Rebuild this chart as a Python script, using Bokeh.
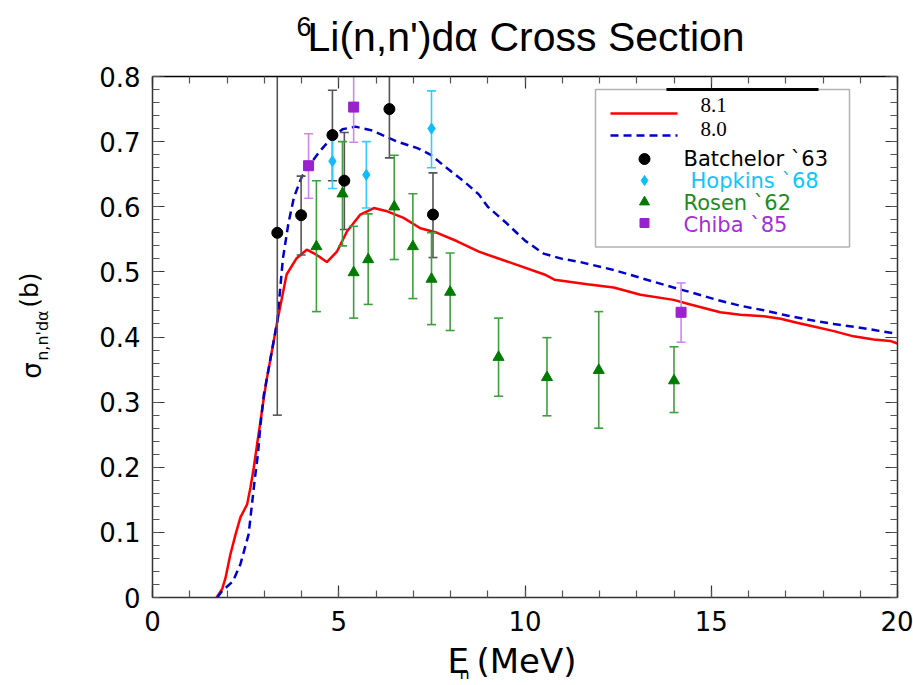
import math
from bokeh.plotting import figure
from bokeh.layouts import column, row
from bokeh.models import (Range1d, LinearAxis, SingleIntervalTicker, CustomJSTickFormatter,
                          Label, BoxAnnotation)
from bokeh.embed import file_html
from bokeh.resources import INLINE

# ---------------- data ----------------
# ENDF/B-VIII.1 evaluation (red solid)
e81 = [1.72, 1.87, 1.96, 2.09, 2.23, 2.36, 2.54, 2.63, 2.72, 2.81, 2.90, 2.99, 3.06, 3.35,
       3.60, 3.87, 4.14, 4.41, 4.68, 4.95, 5.22, 5.58, 5.94, 6.30, 6.74, 7.19, 7.64, 8.18,
       8.76, 9.52, 10.52, 10.79, 11.67, 12.38, 13.10, 13.99, 14.44, 15.24, 15.78, 16.41,
       16.86, 17.30, 17.75, 18.29, 18.82, 19.36, 19.80, 20.00]
s81 = [0.000, 0.013, 0.030, 0.066, 0.097, 0.123, 0.143, 0.169, 0.200, 0.236, 0.271, 0.307,
       0.333, 0.424, 0.496, 0.521, 0.534, 0.526, 0.515, 0.531, 0.562, 0.588, 0.598, 0.593,
       0.583, 0.567, 0.560, 0.547, 0.531, 0.516, 0.496, 0.488, 0.481, 0.476, 0.465, 0.457,
       0.450, 0.438, 0.434, 0.432, 0.428, 0.422, 0.416, 0.409, 0.401, 0.396, 0.394, 0.390]
# ENDF/B-VIII.0 evaluation (blue dashed)
e80 = [1.74, 1.87, 2.16, 2.36, 2.58, 2.67, 2.74, 2.83, 2.90, 2.99, 3.06, 3.35, 3.50, 3.65,
       3.80, 4.00, 4.20, 4.50, 4.80, 5.10, 5.45, 5.90, 6.57, 7.11, 7.46, 7.91, 8.36, 8.76,
       9.00, 9.50, 10.00, 10.50, 11.00, 11.49, 12.38, 13.27, 14.17, 14.44, 15.15, 15.78,
       16.41, 17.03, 17.66, 18.29, 18.91, 19.45, 20.00]
s80 = [0.000, 0.010, 0.025, 0.051, 0.097, 0.143, 0.179, 0.220, 0.266, 0.312, 0.333, 0.424,
       0.520, 0.575, 0.615, 0.645, 0.663, 0.686, 0.705, 0.719, 0.723, 0.717, 0.700, 0.690,
       0.680, 0.659, 0.639, 0.619, 0.600, 0.575, 0.548, 0.528, 0.520, 0.515, 0.503, 0.488,
       0.473, 0.469, 0.457, 0.448, 0.441, 0.433, 0.426, 0.420, 0.415, 0.410, 0.405]

# Batchelor `63
bat_e = [3.35, 3.99, 4.83, 5.15, 6.36, 7.53]
bat_s = [0.560, 0.587, 0.710, 0.640, 0.750, 0.588]
bat_lo = [0.280, 0.526, 0.640, 0.565, 0.675, 0.522]
bat_hi = [0.850, 0.647, 0.779, 0.714, 0.825, 0.652]
# Hopkins `68
hop_e = [4.83, 5.74, 7.49]
hop_s = [0.670, 0.649, 0.720]
hop_lo = [0.628, 0.598, 0.660]
hop_hi = [0.712, 0.700, 0.778]
# Rosen `62
ros_e = [4.40, 5.10, 5.40, 5.79, 6.49, 6.99, 7.49, 7.99, 9.29, 10.59, 11.98, 14.00]
ros_s = [0.539, 0.620, 0.499, 0.519, 0.600, 0.539, 0.489, 0.469, 0.369, 0.338, 0.349, 0.333]
ros_lo = [0.439, 0.540, 0.429, 0.450, 0.519, 0.459, 0.419, 0.410, 0.309, 0.279, 0.260, 0.284]
ros_hi = [0.640, 0.700, 0.570, 0.589, 0.679, 0.620, 0.560, 0.529, 0.429, 0.399, 0.439, 0.385]
# Chiba `85
chi_e = [4.19, 5.40, 14.19]
chi_s = [0.663, 0.753, 0.438]
chi_lo = [0.613, 0.699, 0.392]
chi_hi = [0.712, 0.810, 0.483]

x_ticks = [0, 5, 10, 15, 20]
y_ticks = [0, 0.1, 0.2, 0.3, 0.4, 0.5, 0.6, 0.7, 0.8]

# ---------------- page layout (pixels of the 913x685 page) ----------------
W, H = 913, 685
TITLE_H = 61          # title strip on top
XLAB_H = 45           # x-axis-label strip at the bottom
YLAB_W = 55           # y-axis-label strip on the left
MAIN_H = H - TITLE_H - XLAB_H
MAIN_W = W - YLAB_W
FL, FR, FT, FB = 152, 897, 76, 597      # plot frame, in page pixels
XMIN, XMAX, YMIN, YMAX = 0.0, 20.0, 0.0, 0.8
MID = 0.346           # distance baseline -> middle of the text box, in em


def dx(px):
    return XMIN + (px - FL) / (FR - FL) * (XMAX - XMIN)


def dy(py):
    return YMIN + (FB - py) / (FB - FT) * (YMAX - YMIN)


def strip(width, height, x0, y0):
    """A bare figure whose data coordinates equal page pixels (y downwards)."""
    f = figure(width=width, height=height, output_backend="svg", toolbar_location=None,
               x_range=Range1d(x0, x0 + width), y_range=Range1d(y0 + height, y0),
               x_axis_location=None, y_axis_location=None, min_border=0)
    f.title.text = ""
    f.grid.visible = False
    f.outline_line_color = None
    f.background_fill_color = "white"
    f.border_fill_color = "white"
    return f


def label(px, py, text, size, color="black", font="DejaVu Sans", rotated=False, conv=True):
    """Text whose baseline starts at page pixel (px, py)."""
    if rotated:             # reads bottom-to-top, baseline is the vertical line x = px
        cx, cy = px - MID * size, py
    else:
        cx, cy = px, py - MID * size
    return Label(x=dx(cx) if conv else cx, y=dy(cy) if conv else cy, text=text,
                 text_font=font, text_font_size=f"{size}px", text_color=color,
                 angle=math.pi / 2 if rotated else 0.0, text_align="left",
                 text_baseline="middle", text_font_style="normal")


# ---------------- main plot ----------------
p = figure(width=MAIN_W, height=MAIN_H, output_backend="svg", toolbar_location=None,
           x_range=Range1d(XMIN, XMAX), y_range=Range1d(YMIN, YMAX),
           min_border_left=FL - YLAB_W, min_border_right=W - FR,
           min_border_top=FT - TITLE_H, min_border_bottom=H - XLAB_H - FB,
           x_axis_location=None, y_axis_location=None)
p.title.text = ""
p.grid.visible = False
p.outline_line_color = None
p.background_fill_color = "white"
p.border_fill_color = "white"


def style_axis(ax, labels=True):
    ax.axis_line_color = "#333333"
    ax.axis_line_width = 1.5
    ax.major_tick_in = 12
    ax.major_tick_out = 0
    ax.minor_tick_in = 7
    ax.minor_tick_out = 0
    ax.major_tick_line_color = "#333333"
    ax.minor_tick_line_color = "#555555"
    ax.major_tick_line_width = 1.2
    ax.minor_tick_line_width = 1.2
    ax.major_label_text_font = "DejaVu Sans"
    ax.major_label_text_font_size = "26px"
    ax.major_label_text_color = "black"
    ax.major_label_standoff = 13
    if not labels:
        ax.formatter = CustomJSTickFormatter(code="return ''")
        ax.major_label_standoff = 0
        ax.major_label_text_font_size = "0px"


xb = LinearAxis(ticker=SingleIntervalTicker(interval=5, num_minor_ticks=5))
style_axis(xb)
xb.major_label_overrides = {t: str(t) for t in x_ticks}
p.add_layout(xb, "below")

xa = LinearAxis(ticker=SingleIntervalTicker(interval=5, num_minor_ticks=5))
style_axis(xa, labels=False)
xa.axis_line_color = "black"
p.add_layout(xa, "above")

yl = LinearAxis(ticker=SingleIntervalTicker(interval=0.1, num_minor_ticks=5))
style_axis(yl)
yl.major_label_standoff = 12
yl.major_label_overrides = {0: "0"}
p.add_layout(yl, "left")

yr = LinearAxis(ticker=SingleIntervalTicker(interval=0.1, num_minor_ticks=5))
style_axis(yr, labels=False)
p.add_layout(yr, "right")

# curves
p.line(e81, s81, line_color="#FF0000", line_width=2.5)
p.line(e80, s80, line_color="#0000CC", line_width=2.5, line_dash="8 5")

# measurements with error bars
series = [
    (bat_e, bat_s, bat_lo, bat_hi, "circle", "black", "#555555", 11),
    (hop_e, hop_s, hop_lo, hop_hi, "diamond", "#11BBFF", "#33CCFF", 11),
    (ros_e, ros_s, ros_lo, ros_hi, "triangle", "#007A00", "#3F9F3F", 11),
    (chi_e, chi_s, chi_lo, chi_hi, "square", "#9922CC", "#CC88EE", 10),
]
for ex, sy, lo, hi, mk, col, ecol, sz in series:
    p.segment(x0=ex, y0=lo, x1=ex, y1=hi, line_color=ecol, line_width=1.6)
    p.scatter(ex, lo, marker="dash", size=9, line_color=ecol, line_width=1.6)
    p.scatter(ex, hi, marker="dash", size=9, line_color=ecol, line_width=1.6)
for ex, sy, lo, hi, mk, col, ecol, sz in series:
    p.scatter(ex, sy, marker=mk, size=sz, fill_color=col, line_color=col)

# legend (drawn by hand)
p.add_layout(BoxAnnotation(left=dx(595), right=dx(849), top=dy(89), bottom=dy(246.5),
                           fill_alpha=0, line_color="black", line_width=1.5))
p.segment(x0=[dx(666)], y0=[dy(89)], x1=[dx(818)], y1=[dy(89)], line_color="black", line_width=3)
p.line([dx(610), dx(677)], [dy(113), dy(113)], line_color="#FF0000", line_width=2.5)
p.line([dx(610), dx(677)], [dy(135), dy(135)], line_color="#0000CC", line_width=2.5, line_dash="8 5")
leg_marks = [("circle", "black", 158.5, 11), ("diamond", "#11BBFF", 180, 10),
             ("triangle", "#007A00", 201.5, 10), ("square", "#9922CC", 222.5, 9)]
for mk, col, py, sz in leg_marks:
    p.scatter([dx(644)], [dy(py)], marker=mk, size=sz, fill_color=col, line_color=col)

p.add_layout(label(700, 112, "8.1", 21, font="Liberation Serif"))
p.add_layout(label(700, 136, "8.0", 21, font="Liberation Serif"))
p.add_layout(label(683, 166, "Batchelor `63", 21, "black"))
p.add_layout(label(690, 188, "Hopkins `68", 21, "#11C4FF"))
p.add_layout(label(683, 210, "Rosen `62", 21, "#1E8C1E"))
p.add_layout(label(683, 232, "Chiba `85", 21, "#A030D8"))

# ---------------- title strip ----------------
t = strip(W, TITLE_H, 0, 0)
t.add_layout(label(296, 35, "6", 27, font="Liberation Sans", conv=False))
t.add_layout(label(307, 51, "Li(n,n')d\u03b1 Cross Section", 41, font="Liberation Sans", conv=False))

# ---------------- y-label strip (rotated) ----------------
yls = strip(YLAB_W, MAIN_H, 0, TITLE_H)
yls.add_layout(label(40, 397, "\u03c3", 26, rotated=True, conv=False))
yls.add_layout(label(48, 377, "n,n'd\u03b1", 16, rotated=True, conv=False))
yls.add_layout(label(38, 318, "(b)", 25, rotated=True, conv=False))

# ---------------- x-label strip ----------------
xls = strip(W, XLAB_H, 0, H - XLAB_H)
xls.add_layout(label(447, 672, "E", 34, conv=False))
xls.add_layout(label(459, 679, "n", 16, conv=False))
xls.add_layout(label(476, 672, "(MeV)", 34, conv=False))

root = column(t, row(yls, p, spacing=0), xls, spacing=0)
open("out.html", "w").write(file_html(root, INLINE))
